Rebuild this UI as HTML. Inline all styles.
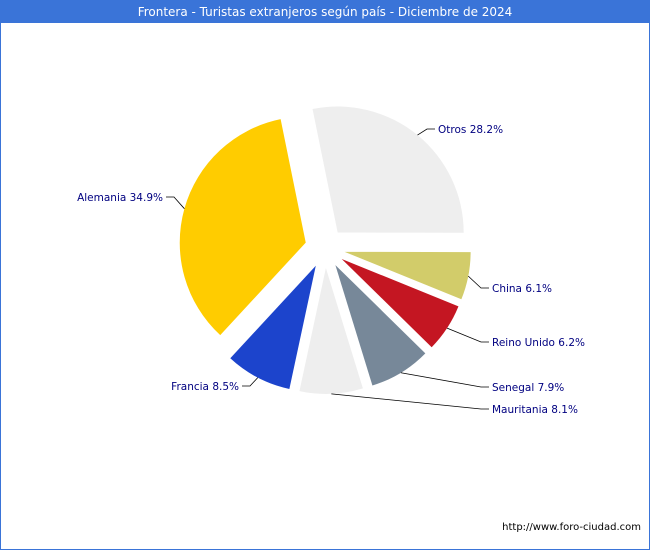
<!DOCTYPE html>
<html><head><meta charset="utf-8"><style>
body{margin:0;background:#fff;}
#wrap{position:relative;width:648px;height:548px;border:1px solid #3a74d8;background:#fff;font-family:"Liberation Sans","DejaVu Sans",sans-serif;}
#title{height:22px;background:#3a74d8;color:#fff;font-size:13px;text-align:center;line-height:22px;font-family:"DejaVu Sans",sans-serif;font-size:12px;}
#foot{position:absolute;right:8px;top:521px;font-size:10px;color:#000;font-family:"DejaVu Sans",sans-serif;}
</style></head><body>
<div id="wrap">
<div id="title">Frontera - Turistas extranjeros según país - Diciembre de 2024</div>
<svg id="pie" width="648" height="520" style="position:absolute;left:0;top:0"></svg>
<div id="foot">http://www.foro-ciudad.com</div>
</div>
<script>
const categories=["Otros","China","Reino Unido","Senegal","Mauritania","Francia","Alemania"];
const values=[28.2,6.1,6.2,7.9,8.1,8.5,34.9];
const colors=["#eeeeee","#d2cc6a","#c41622","#778899","#eeeeee","#1c44cc","#ffcc00"];
const labelYs=[128,287,341,386,408,385,196];
const labelXs=[437,491,491,491,491,238,162];
const cx=324,cy=247,R=126,EX=20,startDeg=-11.5;
const svg=document.getElementById('pie');
const NS="http://www.w3.org/2000/svg";
const total=values.reduce((a,b)=>a+b,0);
function pt(x,y,deg,r){const a=deg*Math.PI/180;return [x+r*Math.sin(a),y-r*Math.cos(a)];}
let ang=startDeg;
values.forEach((v,i)=>{
  const sweep=v/total*360,mid=ang+sweep/2;
  const [ox,oy]=pt(cx,cy,mid,EX);
  const p1=pt(ox,oy,ang,R),p2=pt(ox,oy,ang+sweep,R);
  const path=document.createElementNS(NS,'path');
  path.setAttribute('d',`M${ox},${oy}L${p1[0]},${p1[1]}A${R},${R} 0 ${sweep>180?1:0} 1 ${p2[0]},${p2[1]}Z`);
  path.setAttribute('fill',colors[i]);
  
  
  svg.appendChild(path);
  const a=pt(ox,oy,mid,R);
  const right=a[0]>=cx;
  const ly=labelYs[i];
  const tx=labelXs[i];
  const ex=right?tx-11:tx+11;
  const line=document.createElementNS(NS,'polyline');
  line.setAttribute('points',`${a[0]},${a[1]} ${ex},${ly} ${right?tx-3:tx+3},${ly}`);
  line.setAttribute('fill','none');line.setAttribute('stroke','#000');line.setAttribute('stroke-width','0.8');
  
  
  svg.appendChild(line);
  const t=document.createElementNS(NS,'text');
  t.setAttribute('x',tx);t.setAttribute('y',ly+4);
  t.setAttribute('text-anchor',right?'start':'end');
  t.setAttribute('font-size','10.5');t.setAttribute('fill','#000080');
  t.setAttribute('font-family','"DejaVu Sans","Liberation Sans",sans-serif');
  t.textContent=categories[i]+' '+v.toFixed(1)+'%';
  
  
  svg.appendChild(t);
  ang+=sweep;
});
</script>
</body></html>
